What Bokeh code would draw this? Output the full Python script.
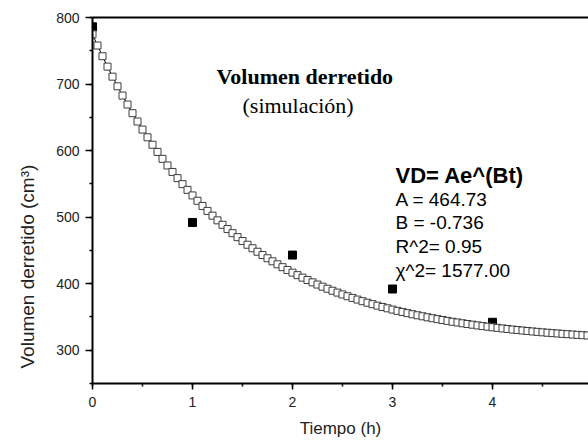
from bokeh.plotting import figure
from bokeh.models import (Range1d, SingleIntervalTicker, LinearAxis, FixedTicker,
                          Label, Title)
from bokeh.embed import file_html
from bokeh.resources import INLINE

# ---- data ----
exp_t = [0, 1, 2, 3, 4, 5]
exp_v = [786, 492, 443, 392, 342, 288]

fit_t = [0.00, 0.05, 0.10, 0.15, 0.20, 0.25, 0.30, 0.35, 0.40, 0.45,
         0.50, 0.55, 0.60, 0.65, 0.70, 0.75, 0.80, 0.85, 0.90, 0.95,
         1.00, 1.05, 1.10, 1.15, 1.20, 1.25, 1.30, 1.35, 1.40, 1.45,
         1.50, 1.55, 1.60, 1.65, 1.70, 1.75, 1.80, 1.85, 1.90, 1.95,
         2.00, 2.05, 2.10, 2.15, 2.20, 2.25, 2.30, 2.35, 2.40, 2.45,
         2.50, 2.55, 2.60, 2.65, 2.70, 2.75, 2.80, 2.85, 2.90, 2.95,
         3.00, 3.05, 3.10, 3.15, 3.20, 3.25, 3.30, 3.35, 3.40, 3.45,
         3.50, 3.55, 3.60, 3.65, 3.70, 3.75, 3.80, 3.85, 3.90, 3.95,
         4.00, 4.05, 4.10, 4.15, 4.20, 4.25, 4.30, 4.35, 4.40, 4.45,
         4.50, 4.55, 4.60, 4.65, 4.70, 4.75, 4.80, 4.85, 4.90, 4.95,
         5.00]
fit_v = [774.7, 757.9, 741.8, 726.2, 711.1, 696.6, 682.7, 669.2, 656.2, 643.7,
         631.6, 620.0, 608.8, 598.0, 587.6, 577.6, 567.9, 558.6, 549.6, 541.0,
         532.6, 524.6, 516.8, 509.4, 502.2, 495.2, 488.5, 482.1, 475.9, 469.9,
         464.1, 458.5, 453.2, 448.0, 443.0, 438.2, 433.6, 429.1, 424.8, 420.6,
         416.6, 412.8, 409.1, 405.5, 402.0, 398.7, 395.5, 392.4, 389.4, 386.6,
         383.8, 381.1, 378.6, 376.1, 373.7, 371.4, 369.2, 367.0, 365.0, 363.0,
         361.1, 359.2, 357.5, 355.7, 354.1, 352.5, 351.0, 349.5, 348.1, 346.7,
         345.4, 344.1, 342.8, 341.7, 340.5, 339.4, 338.4, 337.3, 336.3, 335.4,
         334.5, 333.6, 332.7, 331.9, 331.1, 330.4, 329.6, 328.9, 328.2, 327.6,
         326.9, 326.3, 325.7, 325.2, 324.6, 324.1, 323.6, 323.1, 322.6, 322.2,
         321.7]

fit_lines = ["A = 464.73", "B = -0.736", "R^2= 0.95", "\u03c7^2= 1577.00"]

SANS = "Liberation Sans"
SERIF = "Liberation Serif"

p = figure(width=588, height=440, output_backend="svg", toolbar_location=None,
           x_range=Range1d(0, 4.96), y_range=Range1d(250, 800),
           min_border_left=92, min_border_right=0, min_border_top=17,
           min_border_bottom=57, background_fill_color="white",
           border_fill_color="white")
p.grid.visible = False
p.outline_line_color = None

xa = p.xaxis[0]
ya = p.yaxis[0]
for ax in (xa, ya):
    ax.axis_line_width = 2
    ax.axis_line_color = "black"
    ax.major_tick_line_width = 1.5
    ax.minor_tick_line_width = 1.5
    ax.major_tick_line_color = "black"
    ax.minor_tick_line_color = "black"
    ax.major_tick_in = 0
    ax.minor_tick_in = 0
    ax.major_tick_out = 6
    ax.minor_tick_out = 3
p.xaxis.major_label_text_font = SANS
p.yaxis.major_label_text_font = SANS
p.xaxis.major_label_text_font_size = "14px"
p.yaxis.major_label_text_font_size = "14px"
p.xaxis.major_label_text_color = "#222222"
p.yaxis.major_label_text_color = "#222222"

xa.ticker = SingleIntervalTicker(interval=1, num_minor_ticks=2)
ya.ticker = SingleIntervalTicker(interval=100, num_minor_ticks=2)
xa.major_label_standoff = 7
ya.major_label_standoff = 6
ya.major_tick_out = 7

xa.axis_label = "Tiempo (h)"
xa.axis_label_text_font = SANS
xa.axis_label_text_font_size = "17px"
xa.axis_label_text_font_style = "normal"
xa.axis_label_text_color = "#222222"
xa.axis_label_standoff = 9

top = LinearAxis(ticker=FixedTicker(ticks=[]), axis_line_width=2,
                 axis_line_color="black", major_label_text_font_size="0px",
                 major_tick_out=0, minor_tick_out=0)
p.add_layout(top, "above")

# y axis label as a side title (sits lower than the frame centre, as in the reference)
p.add_layout(Title(text="Volumen derretido (cm\u00b3)", align="left", offset=15,
                   vertical_align="middle", standoff=30, text_font=SANS,
                   text_font_size="19px", text_font_style="normal",
                   text_color="#222222"), "left")

# experimental points
p.scatter(exp_t, exp_v, marker="square", size=8, fill_color="black",
          line_color="black")

# fitted curve (line + hollow squares)
p.line(fit_t, fit_v, line_color="black", line_width=1)
p.scatter(fit_t, fit_v, marker="square", size=7, fill_color="white",
          line_color="#3c3c3c", line_width=1)

# titles
p.add_layout(Label(x=1.24, y=711, text="Volumen derretido", text_align="left",
                   text_baseline="middle", text_font=SERIF,
                   text_font_style="bold", text_font_size="22px",
                   text_color="black"))
p.add_layout(Label(x=1.50, y=668, text="(simulación)", text_align="left",
                   text_baseline="middle", text_font=SERIF,
                   text_font_size="22px", text_color="black"))

# fit annotation
p.add_layout(Label(x=3.03, y=563, text="VD= Ae^(Bt)", text_align="left",
                   text_baseline="middle", text_font=SANS,
                   text_font_style="bold", text_font_size="22px",
                   text_color="black"))
ys = [526.4, 491.3, 455.2, 420.2]
for txt, yy in zip(fit_lines, ys):
    p.add_layout(Label(x=3.03, y=yy, text=txt, text_align="left",
                       text_baseline="middle", text_font=SANS,
                       text_font_size="19px", text_color="black"))

open("out.html", "w").write(file_html(p, INLINE))
